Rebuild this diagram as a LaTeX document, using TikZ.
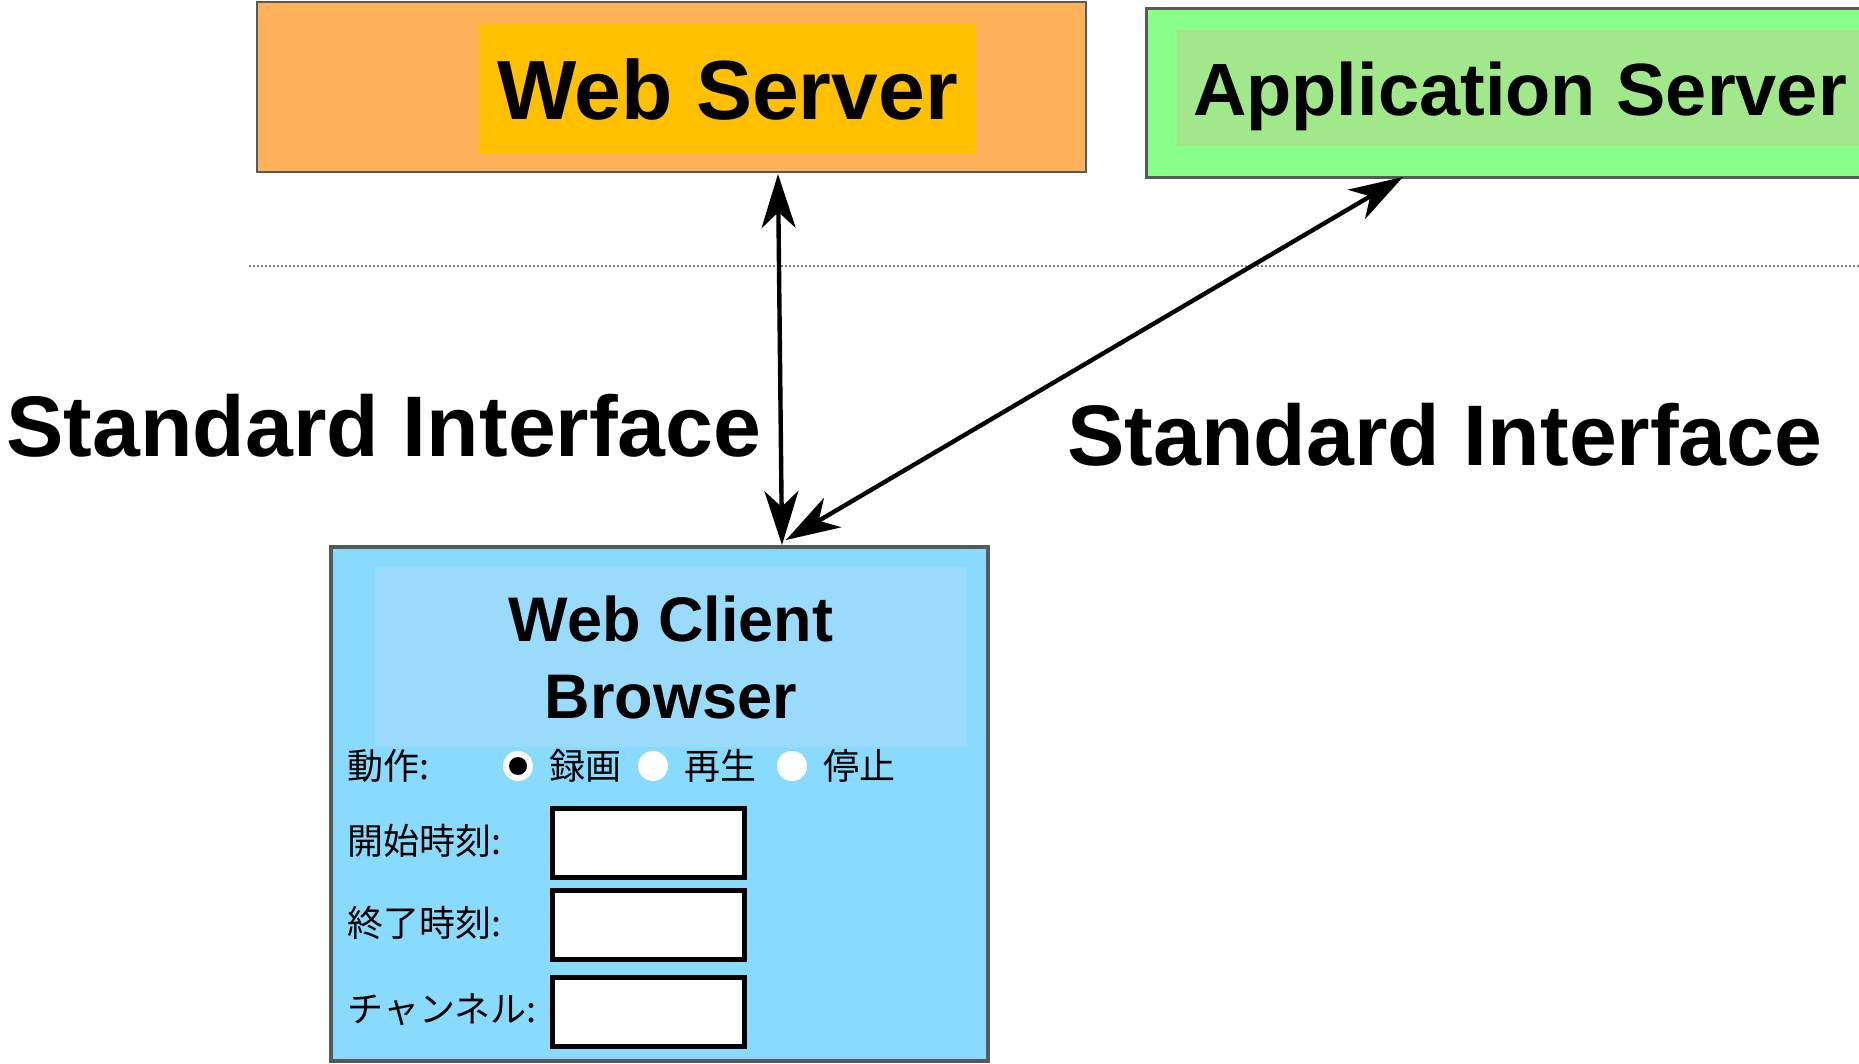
\documentclass[tikz,border=0pt]{standalone}
\usepackage{fontspec}
\setmainfont{Liberation Sans}
\newfontfamily\jpfont{Noto Sans CJK JP}
\usepackage{tikz}
\usetikzlibrary{arrows.meta,calc,positioning}

\definecolor{wsouter}{RGB}{253,178,90}
\definecolor{wsinner}{RGB}{255,192,0}
\definecolor{asouter}{RGB}{136,255,136}
\definecolor{asinner}{RGB}{160,232,138}
\definecolor{clouter}{RGB}{137,219,254}
\definecolor{clinner}{RGB}{154,219,252}

\begin{document}
\begin{tikzpicture}[x=0.5pt,y=-0.5pt,>={Stealth[length=27pt,width=17pt,inset=8pt]}]
	\tikzstyle{frame} = [draw=gray!70!black, rectangle, inner sep=0pt]
	\tikzstyle{panel} = [rectangle, inner sep=0pt]
	\tikzstyle{title} = [font=\bfseries\fontsize{42}{50}\selectfont]
	\tikzstyle{field} = [draw, line width=2.5pt, fill=white, minimum width=96pt, minimum height=34.5pt]
	\tikzstyle{jp} = [font=\jpfont\fontsize{18}{21}\selectfont, anchor=west, inner sep=0pt]
	\tikzstyle{link} = [<->, line width=2.2pt]

	\useasboundingbox (0,0) rectangle (1859,1064);
	\clip (0,0) rectangle (1859,1064);

	% servers
	\node [frame, fill=wsouter, line width=1pt, minimum width=414.5pt, minimum height=85pt] (web) at (671.5,87) {};
	\node [panel, fill=wsinner, title, minimum width=248.5pt, minimum height=65pt] (webin) at (727.5,89) {Web Server};

	\node [frame, fill=asouter, line width=1.5pt, minimum width=367pt, minimum height=84.5pt] (app) at (1513,93.5) {};
	\node [panel, fill=asinner, minimum width=351.5pt, minimum height=58pt] (appin) at (1528.5,88) {};
	\node [title, font=\bfseries\fontsize{37}{44}\selectfont, anchor=base, inner sep=0pt] (apptxt) at (1520,116) {Application Server};

	\draw [densely dotted, gray, line width=1pt] (249,266) -- (1859,266);

	% client
	\node [frame, fill=clouter, line width=2.25pt, minimum width=328.5pt, minimum height=257pt] (client) at (659.5,804) {};
	\node [panel, fill=clinner, align=center, font=\bfseries\fontsize{31.5}{38.5}\selectfont,
		minimum width=296pt, minimum height=90pt] (clientin) at (671,657) {Web Client\\Browser};

	\node [jp] (op) at (347,766) {動作:};
	\foreach \x/\t [count=\i] in {518/録画, 653/再生, 792/停止}
	{ \node [circle, fill=white, minimum size=15pt, inner sep=0pt] (r\i) at (\x,766) {};
	  \node [jp, right=8pt of r\i] (rl\i) {\t};}
	\fill (r1) circle (4.5pt);

	\foreach \y/\t [count=\i] in {843/開始時刻:, 925/終了時刻:, 1012/チャンネル:}
	{ \node [jp] (lbl\i) at (347,\y-2) {\t};
	  \node [field] (f\i) at (648.5,\y) {};}

	% links
	\coordinate (wsend) at (778,174);
	\coordinate (clend) at (782,545);
	\coordinate (asend) at (1403,177);
	\coordinate (clend2) at (786,540);
	\draw [link] (clend) -- (wsend);
	\draw [link] (clend2) -- (asend);

	\node [title, font=\bfseries\fontsize{43}{50}\selectfont, anchor=base west, inner sep=0pt] (sileft) at (6,456) {Standard Interface};
	\node [title, font=\bfseries\fontsize{43}{50}\selectfont, anchor=base west, inner sep=0pt] (siright) at (1067,466) {Standard Interface};
\end{tikzpicture}
\end{document}
